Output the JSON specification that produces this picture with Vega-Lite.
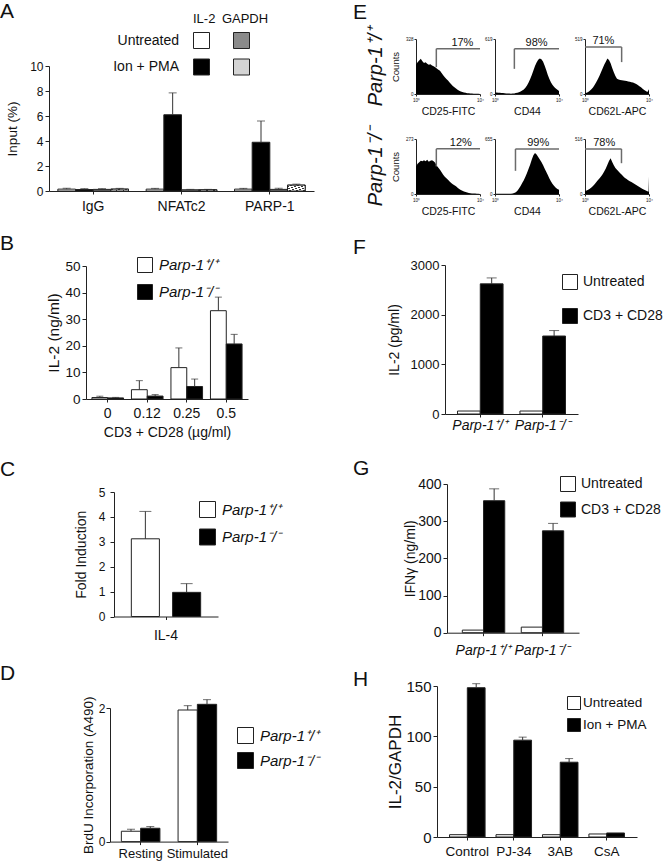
{
  "$schema": "https://vega.github.io/schema/vega-lite/v6.json",
  "background": "white",
  "padding": 0,
  "spacing": 33,
  "resolve": {"scale": {"fill": "independent", "xOffset": "independent"}},
  "config": {
    "font": "Liberation Sans",
    "view": {"stroke": null},
    "axis": {"grid": false, "domainColor": "#222", "tickColor": "#222", "labelColor": "#111", "titleColor": "#111", "labelFont": "Liberation Sans", "titleFont": "Liberation Sans", "titleFontWeight": "normal", "tickSize": 4, "labelPadding": 2},
    "legend": {"labelFont": "Liberation Sans", "titleFont": "Liberation Sans", "titleFontWeight": "normal", "titleColor": "#111", "labelColor": "#111", "symbolType": "square", "symbolStrokeColor": "#222", "symbolStrokeWidth": 1, "padding": 0, "labelOffset": 6, "labelLimit": 300},
    "title": {"font": "Liberation Sans", "fontSize": 21, "fontWeight": "normal", "color": "#111"}
  },
  "datasets": {
    "chipA": [
      {"target": "IgG", "gene": "IL-2", "treatment": "Untreated", "series": "IL-2 Untreated", "value": 0.15, "upper": 0.22},
      {"target": "IgG", "gene": "IL-2", "treatment": "Ion + PMA", "series": "IL-2 Ion + PMA", "value": 0.12, "upper": 0.19},
      {"target": "IgG", "gene": "GAPDH", "treatment": "Untreated", "series": "GAPDH Untreated", "value": 0.13, "upper": 0.19},
      {"target": "IgG", "gene": "GAPDH", "treatment": "Ion + PMA", "series": "GAPDH Ion + PMA", "value": 0.15, "upper": 0.21},
      {"target": "NFATc2", "gene": "IL-2", "treatment": "Untreated", "series": "IL-2 Untreated", "value": 0.15, "upper": 0.21},
      {"target": "NFATc2", "gene": "IL-2", "treatment": "Ion + PMA", "series": "IL-2 Ion + PMA", "value": 6.1, "upper": 7.85},
      {"target": "NFATc2", "gene": "GAPDH", "treatment": "Untreated", "series": "GAPDH Untreated", "value": 0.1, "upper": 0.13},
      {"target": "NFATc2", "gene": "GAPDH", "treatment": "Ion + PMA", "series": "GAPDH Ion + PMA", "value": 0.1, "upper": 0.13},
      {"target": "PARP-1", "gene": "IL-2", "treatment": "Untreated", "series": "IL-2 Untreated", "value": 0.15, "upper": 0.21},
      {"target": "PARP-1", "gene": "IL-2", "treatment": "Ion + PMA", "series": "IL-2 Ion + PMA", "value": 3.9, "upper": 5.6},
      {"target": "PARP-1", "gene": "GAPDH", "treatment": "Untreated", "series": "GAPDH Untreated", "value": 0.13, "upper": 0.22},
      {"target": "PARP-1", "gene": "GAPDH", "treatment": "Ion + PMA", "series": "GAPDH Ion + PMA", "value": 0.47, "upper": 0.55}
    ],
    "il2B": [
      {"dose": "0", "genotype": "Parp-1⁺/⁺", "value": 0.55, "upper": 1.05},
      {"dose": "0", "genotype": "Parp-1⁻/⁻", "value": 0.4, "upper": 0.6},
      {"dose": "0.12", "genotype": "Parp-1⁺/⁺", "value": 3.5, "upper": 6.9},
      {"dose": "0.12", "genotype": "Parp-1⁻/⁻", "value": 1.1, "upper": 1.65},
      {"dose": "0.25", "genotype": "Parp-1⁺/⁺", "value": 11.8, "upper": 19.2},
      {"dose": "0.25", "genotype": "Parp-1⁻/⁻", "value": 4.7, "upper": 7.5},
      {"dose": "0.5", "genotype": "Parp-1⁺/⁺", "value": 33.2, "upper": 38.3},
      {"dose": "0.5", "genotype": "Parp-1⁻/⁻", "value": 20.7, "upper": 24.3}
    ],
    "il4C": [
      {"cytokine": "IL-4", "genotype": "Parp-1⁺/⁺", "value": 3.12, "upper": 4.22},
      {"cytokine": "IL-4", "genotype": "Parp-1⁻/⁻", "value": 0.97, "upper": 1.32}
    ],
    "brduD": [
      {"state": "Resting", "genotype": "Parp-1⁺/⁺", "value": 0.155, "upper": 0.185},
      {"state": "Resting", "genotype": "Parp-1⁻/⁻", "value": 0.2, "upper": 0.225},
      {"state": "Stimulated", "genotype": "Parp-1⁺/⁺", "value": 1.97, "upper": 2.035},
      {"state": "Stimulated", "genotype": "Parp-1⁻/⁻", "value": 2.055, "upper": 2.125}
    ],
    "il2F": [
      {"genotype": "Parp-1⁺/⁺", "treatment": "Untreated", "value": 60},
      {"genotype": "Parp-1⁺/⁺", "treatment": "CD3 + CD28", "value": 2620, "upper": 2740},
      {"genotype": "Parp-1⁻/⁻", "treatment": "Untreated", "value": 60},
      {"genotype": "Parp-1⁻/⁻", "treatment": "CD3 + CD28", "value": 1570, "upper": 1680}
    ],
    "ifngG": [
      {"genotype": "Parp-1⁺/⁺", "treatment": "Untreated", "value": 7},
      {"genotype": "Parp-1⁺/⁺", "treatment": "CD3 + CD28", "value": 355, "upper": 387},
      {"genotype": "Parp-1⁻/⁻", "treatment": "Untreated", "value": 15},
      {"genotype": "Parp-1⁻/⁻", "treatment": "CD3 + CD28", "value": 274, "upper": 294}
    ],
    "il2H": [
      {"inhibitor": "Control", "treatment": "Untreated", "value": 2.3},
      {"inhibitor": "Control", "treatment": "Ion + PMA", "value": 148.3, "upper": 152.3},
      {"inhibitor": "PJ-34", "treatment": "Untreated", "value": 2.3},
      {"inhibitor": "PJ-34", "treatment": "Ion + PMA", "value": 96.2, "upper": 99.2},
      {"inhibitor": "3AB", "treatment": "Untreated", "value": 2.3},
      {"inhibitor": "3AB", "treatment": "Ion + PMA", "value": 74.3, "upper": 77.9},
      {"inhibitor": "CsA", "treatment": "Untreated", "value": 3},
      {"inhibitor": "CsA", "treatment": "Ion + PMA", "value": 4}
    ],
    "gates": [
      {"panel": 1, "lo": 1.27, "hi": 4, "level": 270, "drop": 160, "vert": 1.27, "pct": "17%", "pct_at": 2.9},
      {"panel": 2, "lo": 1.21, "hi": 4, "level": 509, "drop": 283, "vert": 1.21, "pct": "98%", "pct_at": 2.6},
      {"panel": 3, "lo": 0, "hi": 2.29, "level": 443, "drop": 301, "vert": 2.29, "pct": "71%", "pct_at": 1.15},
      {"panel": 4, "lo": 1.27, "hi": 4, "level": 224, "drop": 137, "vert": 1.27, "pct": "12%", "pct_at": 2.8},
      {"panel": 5, "lo": 1.28, "hi": 4, "level": 537, "drop": 276, "vert": 1.28, "pct": "99%", "pct_at": 2.7},
      {"panel": 6, "lo": 0, "hi": 2.28, "level": 423, "drop": 289, "vert": 2.28, "pct": "78%", "pct_at": 1.2}
    ],
    "hist": [
      {"panel": 1, "log_int": 0.0, "count": 174}, {"panel": 1, "log_int": 0.1, "count": 190}, {"panel": 1, "log_int": 0.2, "count": 200}, {"panel": 1, "log_int": 0.3, "count": 210}, {"panel": 1, "log_int": 0.4, "count": 195}, {"panel": 1, "log_int": 0.5, "count": 185}, {"panel": 1, "log_int": 0.6, "count": 190}, {"panel": 1, "log_int": 0.7, "count": 180}, {"panel": 1, "log_int": 0.8, "count": 175}, {"panel": 1, "log_int": 0.9, "count": 178}, {"panel": 1, "log_int": 1.0, "count": 170}, {"panel": 1, "log_int": 1.1, "count": 165}, {"panel": 1, "log_int": 1.2, "count": 160}, {"panel": 1, "log_int": 1.3, "count": 152}, {"panel": 1, "log_int": 1.4, "count": 145}, {"panel": 1, "log_int": 1.5, "count": 138}, {"panel": 1, "log_int": 1.6, "count": 125}, {"panel": 1, "log_int": 1.7, "count": 112}, {"panel": 1, "log_int": 1.8, "count": 100}, {"panel": 1, "log_int": 1.9, "count": 90}, {"panel": 1, "log_int": 2.0, "count": 80}, {"panel": 1, "log_int": 2.1, "count": 68}, {"panel": 1, "log_int": 2.2, "count": 58}, {"panel": 1, "log_int": 2.3, "count": 48}, {"panel": 1, "log_int": 2.4, "count": 40}, {"panel": 1, "log_int": 2.5, "count": 33}, {"panel": 1, "log_int": 2.6, "count": 26}, {"panel": 1, "log_int": 2.7, "count": 20}, {"panel": 1, "log_int": 2.8, "count": 15}, {"panel": 1, "log_int": 2.9, "count": 12}, {"panel": 1, "log_int": 3.0, "count": 9}, {"panel": 1, "log_int": 3.1, "count": 7}, {"panel": 1, "log_int": 3.2, "count": 5}, {"panel": 1, "log_int": 3.3, "count": 4}, {"panel": 1, "log_int": 3.4, "count": 3}, {"panel": 1, "log_int": 3.5, "count": 3}, {"panel": 1, "log_int": 3.6, "count": 2}, {"panel": 1, "log_int": 3.7, "count": 2}, {"panel": 1, "log_int": 3.8, "count": 1}, {"panel": 1, "log_int": 3.9, "count": 1}, {"panel": 1, "log_int": 4.0, "count": 0},
      {"panel": 2, "log_int": 0.0, "count": 15}, {"panel": 2, "log_int": 0.1, "count": 18}, {"panel": 2, "log_int": 0.2, "count": 15}, {"panel": 2, "log_int": 0.3, "count": 14}, {"panel": 2, "log_int": 0.4, "count": 12}, {"panel": 2, "log_int": 0.5, "count": 10}, {"panel": 2, "log_int": 0.6, "count": 9}, {"panel": 2, "log_int": 0.7, "count": 7}, {"panel": 2, "log_int": 0.8, "count": 6}, {"panel": 2, "log_int": 0.9, "count": 5}, {"panel": 2, "log_int": 1.0, "count": 4}, {"panel": 2, "log_int": 1.1, "count": 5}, {"panel": 2, "log_int": 1.2, "count": 7}, {"panel": 2, "log_int": 1.3, "count": 10}, {"panel": 2, "log_int": 1.4, "count": 14}, {"panel": 2, "log_int": 1.5, "count": 20}, {"panel": 2, "log_int": 1.6, "count": 28}, {"panel": 2, "log_int": 1.7, "count": 38}, {"panel": 2, "log_int": 1.8, "count": 52}, {"panel": 2, "log_int": 1.9, "count": 70}, {"panel": 2, "log_int": 2.0, "count": 95}, {"panel": 2, "log_int": 2.1, "count": 130}, {"panel": 2, "log_int": 2.2, "count": 170}, {"panel": 2, "log_int": 2.3, "count": 215}, {"panel": 2, "log_int": 2.4, "count": 265}, {"panel": 2, "log_int": 2.5, "count": 315}, {"panel": 2, "log_int": 2.6, "count": 355}, {"panel": 2, "log_int": 2.7, "count": 385}, {"panel": 2, "log_int": 2.8, "count": 400}, {"panel": 2, "log_int": 2.9, "count": 390}, {"panel": 2, "log_int": 3.0, "count": 365}, {"panel": 2, "log_int": 3.1, "count": 320}, {"panel": 2, "log_int": 3.2, "count": 270}, {"panel": 2, "log_int": 3.3, "count": 215}, {"panel": 2, "log_int": 3.4, "count": 170}, {"panel": 2, "log_int": 3.5, "count": 130}, {"panel": 2, "log_int": 3.6, "count": 100}, {"panel": 2, "log_int": 3.7, "count": 78}, {"panel": 2, "log_int": 3.8, "count": 62}, {"panel": 2, "log_int": 3.9, "count": 48}, {"panel": 2, "log_int": 4.0, "count": 35},
      {"panel": 3, "log_int": 0.0, "count": 8}, {"panel": 3, "log_int": 0.1, "count": 12}, {"panel": 3, "log_int": 0.2, "count": 20}, {"panel": 3, "log_int": 0.3, "count": 30}, {"panel": 3, "log_int": 0.4, "count": 45}, {"panel": 3, "log_int": 0.5, "count": 62}, {"panel": 3, "log_int": 0.6, "count": 85}, {"panel": 3, "log_int": 0.7, "count": 110}, {"panel": 3, "log_int": 0.8, "count": 140}, {"panel": 3, "log_int": 0.9, "count": 170}, {"panel": 3, "log_int": 1.0, "count": 205}, {"panel": 3, "log_int": 1.1, "count": 240}, {"panel": 3, "log_int": 1.2, "count": 275}, {"panel": 3, "log_int": 1.3, "count": 305}, {"panel": 3, "log_int": 1.4, "count": 335}, {"panel": 3, "log_int": 1.5, "count": 320}, {"panel": 3, "log_int": 1.6, "count": 290}, {"panel": 3, "log_int": 1.7, "count": 245}, {"panel": 3, "log_int": 1.8, "count": 205}, {"panel": 3, "log_int": 1.9, "count": 170}, {"panel": 3, "log_int": 2.0, "count": 145}, {"panel": 3, "log_int": 2.1, "count": 138}, {"panel": 3, "log_int": 2.2, "count": 133}, {"panel": 3, "log_int": 2.3, "count": 130}, {"panel": 3, "log_int": 2.4, "count": 128}, {"panel": 3, "log_int": 2.5, "count": 125}, {"panel": 3, "log_int": 2.6, "count": 122}, {"panel": 3, "log_int": 2.7, "count": 118}, {"panel": 3, "log_int": 2.8, "count": 115}, {"panel": 3, "log_int": 2.9, "count": 112}, {"panel": 3, "log_int": 3.0, "count": 108}, {"panel": 3, "log_int": 3.1, "count": 102}, {"panel": 3, "log_int": 3.2, "count": 94}, {"panel": 3, "log_int": 3.3, "count": 84}, {"panel": 3, "log_int": 3.4, "count": 74}, {"panel": 3, "log_int": 3.5, "count": 63}, {"panel": 3, "log_int": 3.6, "count": 50}, {"panel": 3, "log_int": 3.7, "count": 38}, {"panel": 3, "log_int": 3.8, "count": 28}, {"panel": 3, "log_int": 3.9, "count": 18}, {"panel": 3, "log_int": 4.0, "count": 45},
      {"panel": 4, "log_int": 0.0, "count": 137}, {"panel": 4, "log_int": 0.1, "count": 150}, {"panel": 4, "log_int": 0.2, "count": 158}, {"panel": 4, "log_int": 0.3, "count": 165}, {"panel": 4, "log_int": 0.4, "count": 162}, {"panel": 4, "log_int": 0.5, "count": 168}, {"panel": 4, "log_int": 0.6, "count": 163}, {"panel": 4, "log_int": 0.7, "count": 170}, {"panel": 4, "log_int": 0.8, "count": 160}, {"panel": 4, "log_int": 0.9, "count": 165}, {"panel": 4, "log_int": 1.0, "count": 168}, {"panel": 4, "log_int": 1.1, "count": 163}, {"panel": 4, "log_int": 1.2, "count": 155}, {"panel": 4, "log_int": 1.3, "count": 140}, {"panel": 4, "log_int": 1.4, "count": 130}, {"panel": 4, "log_int": 1.5, "count": 120}, {"panel": 4, "log_int": 1.6, "count": 108}, {"panel": 4, "log_int": 1.7, "count": 96}, {"panel": 4, "log_int": 1.8, "count": 86}, {"panel": 4, "log_int": 1.9, "count": 78}, {"panel": 4, "log_int": 2.0, "count": 71}, {"panel": 4, "log_int": 2.1, "count": 62}, {"panel": 4, "log_int": 2.2, "count": 55}, {"panel": 4, "log_int": 2.3, "count": 48}, {"panel": 4, "log_int": 2.4, "count": 43}, {"panel": 4, "log_int": 2.5, "count": 38}, {"panel": 4, "log_int": 2.6, "count": 31}, {"panel": 4, "log_int": 2.7, "count": 25}, {"panel": 4, "log_int": 2.8, "count": 20}, {"panel": 4, "log_int": 2.9, "count": 16}, {"panel": 4, "log_int": 3.0, "count": 13}, {"panel": 4, "log_int": 3.1, "count": 10}, {"panel": 4, "log_int": 3.2, "count": 7}, {"panel": 4, "log_int": 3.3, "count": 5}, {"panel": 4, "log_int": 3.4, "count": 4}, {"panel": 4, "log_int": 3.5, "count": 3}, {"panel": 4, "log_int": 3.6, "count": 2}, {"panel": 4, "log_int": 3.7, "count": 2}, {"panel": 4, "log_int": 3.8, "count": 1}, {"panel": 4, "log_int": 3.9, "count": 1}, {"panel": 4, "log_int": 4.0, "count": 0},
      {"panel": 5, "log_int": 0.0, "count": 2}, {"panel": 5, "log_int": 0.1, "count": 2}, {"panel": 5, "log_int": 0.2, "count": 2}, {"panel": 5, "log_int": 0.3, "count": 2}, {"panel": 5, "log_int": 0.4, "count": 2}, {"panel": 5, "log_int": 0.5, "count": 2}, {"panel": 5, "log_int": 0.6, "count": 2}, {"panel": 5, "log_int": 0.7, "count": 2}, {"panel": 5, "log_int": 0.8, "count": 2}, {"panel": 5, "log_int": 0.9, "count": 2}, {"panel": 5, "log_int": 1.0, "count": 3}, {"panel": 5, "log_int": 1.1, "count": 6}, {"panel": 5, "log_int": 1.2, "count": 12}, {"panel": 5, "log_int": 1.3, "count": 22}, {"panel": 5, "log_int": 1.4, "count": 40}, {"panel": 5, "log_int": 1.5, "count": 65}, {"panel": 5, "log_int": 1.6, "count": 95}, {"panel": 5, "log_int": 1.7, "count": 130}, {"panel": 5, "log_int": 1.8, "count": 165}, {"panel": 5, "log_int": 1.9, "count": 205}, {"panel": 5, "log_int": 2.0, "count": 250}, {"panel": 5, "log_int": 2.1, "count": 300}, {"panel": 5, "log_int": 2.2, "count": 350}, {"panel": 5, "log_int": 2.3, "count": 410}, {"panel": 5, "log_int": 2.4, "count": 460}, {"panel": 5, "log_int": 2.5, "count": 488}, {"panel": 5, "log_int": 2.6, "count": 470}, {"panel": 5, "log_int": 2.7, "count": 440}, {"panel": 5, "log_int": 2.8, "count": 410}, {"panel": 5, "log_int": 2.9, "count": 380}, {"panel": 5, "log_int": 3.0, "count": 345}, {"panel": 5, "log_int": 3.1, "count": 305}, {"panel": 5, "log_int": 3.2, "count": 265}, {"panel": 5, "log_int": 3.3, "count": 225}, {"panel": 5, "log_int": 3.4, "count": 185}, {"panel": 5, "log_int": 3.5, "count": 150}, {"panel": 5, "log_int": 3.6, "count": 120}, {"panel": 5, "log_int": 3.7, "count": 95}, {"panel": 5, "log_int": 3.8, "count": 75}, {"panel": 5, "log_int": 3.9, "count": 60}, {"panel": 5, "log_int": 4.0, "count": 50},
      {"panel": 6, "log_int": 0.0, "count": 25}, {"panel": 6, "log_int": 0.1, "count": 32}, {"panel": 6, "log_int": 0.2, "count": 40}, {"panel": 6, "log_int": 0.3, "count": 50}, {"panel": 6, "log_int": 0.4, "count": 62}, {"panel": 6, "log_int": 0.5, "count": 75}, {"panel": 6, "log_int": 0.6, "count": 92}, {"panel": 6, "log_int": 0.7, "count": 110}, {"panel": 6, "log_int": 0.8, "count": 128}, {"panel": 6, "log_int": 0.9, "count": 146}, {"panel": 6, "log_int": 1.0, "count": 165}, {"panel": 6, "log_int": 1.1, "count": 185}, {"panel": 6, "log_int": 1.2, "count": 210}, {"panel": 6, "log_int": 1.3, "count": 240}, {"panel": 6, "log_int": 1.4, "count": 275}, {"panel": 6, "log_int": 1.5, "count": 310}, {"panel": 6, "log_int": 1.6, "count": 336}, {"panel": 6, "log_int": 1.7, "count": 300}, {"panel": 6, "log_int": 1.8, "count": 270}, {"panel": 6, "log_int": 1.9, "count": 245}, {"panel": 6, "log_int": 2.0, "count": 227}, {"panel": 6, "log_int": 2.1, "count": 210}, {"panel": 6, "log_int": 2.2, "count": 195}, {"panel": 6, "log_int": 2.3, "count": 180}, {"panel": 6, "log_int": 2.4, "count": 165}, {"panel": 6, "log_int": 2.5, "count": 150}, {"panel": 6, "log_int": 2.6, "count": 140}, {"panel": 6, "log_int": 2.7, "count": 130}, {"panel": 6, "log_int": 2.8, "count": 120}, {"panel": 6, "log_int": 2.9, "count": 112}, {"panel": 6, "log_int": 3.0, "count": 103}, {"panel": 6, "log_int": 3.1, "count": 94}, {"panel": 6, "log_int": 3.2, "count": 84}, {"panel": 6, "log_int": 3.3, "count": 74}, {"panel": 6, "log_int": 3.4, "count": 65}, {"panel": 6, "log_int": 3.5, "count": 56}, {"panel": 6, "log_int": 3.6, "count": 48}, {"panel": 6, "log_int": 3.7, "count": 40}, {"panel": 6, "log_int": 3.8, "count": 32}, {"panel": 6, "log_int": 3.9, "count": 25}, {"panel": 6, "log_int": 3.97, "count": 20}, {"panel": 6, "log_int": 4.0, "count": 165}
    ]
  },
  "hconcat": [
    {
      "spacing": 0,
      "resolve": {"scale": {"fill": "independent", "xOffset": "independent"}},
      "vconcat": [
        {"width": 1, "height": 1, "data": {"values": []}, "mark": "point"},
        {
          "spacing": 20,
          "resolve": {"scale": {"fill": "independent", "xOffset": "independent"}},
          "vconcat": [
            {
              "title": {"text": "A", "anchor": "start", "frame": "bounds", "baseline": "alphabetic", "offset": -26},
              "spacing": 0,
              "resolve": {"scale": {"fill": "independent", "xOffset": "independent"}},
              "hconcat": [
                {"width": 5, "height": 1, "data": {"values": []}, "mark": "point"},
                {
                  "width": 265, "height": 125,
                  "data": {"name": "chipA"},
                  "encoding": {
                    "x": {"field": "target", "type": "nominal", "sort": ["IgG", "NFATc2", "PARP-1"], "scale": {"paddingInner": 0.2, "paddingOuter": 0.1}, "axis": {"title": null, "labelAngle": 0, "tickSize": 3, "labelPadding": 5, "labelFontSize": 14}},
                    "xOffset": {"field": "series", "type": "nominal", "sort": ["IL-2 Untreated", "IL-2 Ion + PMA", "GAPDH Untreated", "GAPDH Ion + PMA"], "scale": {"paddingInner": 0, "paddingOuter": 0}},
                    "y": {"field": "value", "type": "quantitative", "scale": {"domain": [0, 10], "nice": false}, "axis": {"values": [0, 2, 4, 6, 8, 10], "title": "Input (%)", "labelFontSize": 12, "titleFontSize": 13.5, "titlePadding": 10, "labelFlush": false}}
                  },
                  "layer": [
                    {
                      "transform": [{"filter": "datum.gene === 'IL-2'"}],
                      "mark": {"type": "bar", "stroke": "#222", "strokeWidth": 1},
                      "encoding": {"fill": {"field": "treatment", "type": "nominal", "scale": {"domain": ["Untreated", "Ion + PMA"], "range": ["#ffffff", "#000000"]}, "legend": {"title": "IL-2", "orient": "none", "legendX": 144, "legendY": -53, "titleFontSize": 13, "titlePadding": 6, "labelAlign": "right", "labelOffset": -31, "labelFontSize": 14, "symbolSize": 256, "rowPadding": 5.5}}}
                    },
                    {
                      "transform": [{"filter": "datum.gene === 'GAPDH'"}],
                      "mark": {"type": "bar", "stroke": "#222", "strokeWidth": 1},
                      "encoding": {"fill": {"field": "treatment", "type": "nominal", "scale": {"domain": ["Untreated", "Ion + PMA"], "range": ["#8a8a8a", "#d4d4d4"]}, "legend": {"title": "GAPDH", "orient": "none", "legendX": 173, "legendY": -53, "titleFontSize": 13, "titlePadding": 6, "titleAnchor": "middle", "labelExpr": "''", "symbolSize": 256, "rowPadding": 5.5}}}
                    },
                    {
                      "transform": [{"filter": "datum.gene === 'GAPDH' && datum.treatment === 'Ion + PMA'"}],
                      "mark": {"type": "bar", "stroke": "#222", "strokeWidth": 1, "fill": {"gradient": "linear", "x1": 0, "y1": 0, "x2": 1, "y2": 1, "stops": [{"offset": 0, "color": "#ffffff"}, {"offset": 0.1, "color": "#ffffff"}, {"offset": 0.1, "color": "#333333"}, {"offset": 0.15, "color": "#333333"}, {"offset": 0.15, "color": "#ffffff"}, {"offset": 0.3, "color": "#ffffff"}, {"offset": 0.3, "color": "#333333"}, {"offset": 0.35, "color": "#333333"}, {"offset": 0.35, "color": "#ffffff"}, {"offset": 0.5, "color": "#ffffff"}, {"offset": 0.5, "color": "#333333"}, {"offset": 0.55, "color": "#333333"}, {"offset": 0.55, "color": "#ffffff"}, {"offset": 0.7, "color": "#ffffff"}, {"offset": 0.7, "color": "#333333"}, {"offset": 0.75, "color": "#333333"}, {"offset": 0.75, "color": "#ffffff"}, {"offset": 0.9, "color": "#ffffff"}, {"offset": 0.9, "color": "#333333"}, {"offset": 0.95, "color": "#333333"}, {"offset": 0.95, "color": "#ffffff"}, {"offset": 1, "color": "#ffffff"}]}}
                    },
                    {"mark": {"type": "rule", "color": "#333", "strokeWidth": 1}, "encoding": {"y2": {"field": "upper"}}},
                    {"mark": {"type": "tick", "color": "#333", "thickness": 1, "size": 8}, "encoding": {"y": {"field": "upper", "type": "quantitative"}}}
                  ],
                  "resolve": {"scale": {"fill": "independent"}}
                }
              ]
            },
            {
              "title": {"text": "B", "anchor": "start", "frame": "bounds", "baseline": "alphabetic", "offset": -14},
              "spacing": 0,
              "resolve": {"scale": {"fill": "independent", "xOffset": "independent"}},
              "hconcat": [
                {"width": 46, "height": 1, "data": {"values": []}, "mark": "point"},
                {
                  "width": 162, "height": 133,
                  "data": {"name": "il2B"},
                  "encoding": {
                    "x": {"field": "dose", "type": "nominal", "sort": ["0", "0.12", "0.25", "0.5"], "scale": {"paddingInner": 0.2, "paddingOuter": 0.15}, "axis": {"title": "CD3 + CD28 (µg/ml)", "labelAngle": 0, "tickSize": 3, "labelPadding": 4, "labelFontSize": 14, "titleFontSize": 14, "titlePadding": 5}},
                    "xOffset": {"field": "genotype", "type": "nominal", "sort": ["Parp-1⁺/⁺", "Parp-1⁻/⁻"], "scale": {"paddingInner": 0}},
                    "y": {"field": "value", "type": "quantitative", "scale": {"domain": [0, 50], "nice": false}, "axis": {"values": [0, 10, 20, 30, 40, 50], "title": "IL-2 (ng/ml)", "labelFontSize": 13.5, "titleFontSize": 15.5, "titlePadding": 3, "labelFlush": false}}
                  },
                  "layer": [
                    {"mark": {"type": "bar", "stroke": "#222", "strokeWidth": 1}, "encoding": {"fill": {"field": "genotype", "type": "nominal", "scale": {"domain": ["Parp-1⁺/⁺", "Parp-1⁻/⁻"], "range": ["#ffffff", "#000000"]}, "legend": {"title": null, "orient": "none", "legendX": 51, "legendY": -9, "labelFontStyle": "italic", "labelFontSize": 15, "symbolSize": 225, "rowPadding": 7}}}},
                    {"mark": {"type": "rule", "color": "#333", "strokeWidth": 1}, "encoding": {"y2": {"field": "upper"}}},
                    {"mark": {"type": "tick", "color": "#333", "thickness": 1, "size": 7}, "encoding": {"y": {"field": "upper", "type": "quantitative"}}}
                  ]
                }
              ]
            },
            {
              "title": {"text": "C", "anchor": "start", "frame": "bounds", "baseline": "alphabetic", "offset": -11},
              "spacing": 0,
              "resolve": {"scale": {"fill": "independent", "xOffset": "independent"}},
              "hconcat": [
                {"width": 74, "height": 1, "data": {"values": []}, "mark": "point"},
                {
                  "width": 104, "height": 124.5,
                  "data": {"name": "il4C"},
                  "encoding": {
                    "x": {"field": "cytokine", "type": "nominal", "scale": {"paddingInner": 0, "paddingOuter": 0.25}, "axis": {"title": null, "labelAngle": 0, "tickSize": 3, "labelPadding": 9, "labelFontSize": 14}},
                    "xOffset": {"field": "genotype", "type": "nominal", "sort": ["Parp-1⁺/⁺", "Parp-1⁻/⁻"], "scale": {"paddingInner": 0.32}},
                    "y": {"field": "value", "type": "quantitative", "scale": {"domain": [0, 5], "nice": false}, "axis": {"values": [0, 1, 2, 3, 4, 5], "title": "Fold Induction", "labelFontSize": 12, "labelPadding": 5, "titleFontSize": 14, "titlePadding": 10, "labelFlush": false}}
                  },
                  "layer": [
                    {"mark": {"type": "bar", "stroke": "#222", "strokeWidth": 1}, "encoding": {"fill": {"field": "genotype", "type": "nominal", "scale": {"domain": ["Parp-1⁺/⁺", "Parp-1⁻/⁻"], "range": ["#ffffff", "#000000"]}, "legend": {"title": null, "orient": "none", "legendX": 85, "legendY": 9, "labelFontStyle": "italic", "labelFontSize": 15, "symbolSize": 256, "rowPadding": 6.5}}}},
                    {"mark": {"type": "rule", "color": "#333", "strokeWidth": 1}, "encoding": {"y2": {"field": "upper"}}},
                    {"mark": {"type": "tick", "color": "#333", "thickness": 1, "size": 12}, "encoding": {"y": {"field": "upper", "type": "quantitative"}}}
                  ]
                }
              ]
            },
            {
              "title": {"text": "D", "anchor": "start", "frame": "bounds", "baseline": "alphabetic", "offset": -5},
              "spacing": 0,
              "resolve": {"scale": {"fill": "independent", "xOffset": "independent"}},
              "hconcat": [
                {"width": 81, "height": 1, "data": {"values": []}, "mark": "point"},
                {
                  "width": 118, "height": 133.6,
                  "data": {"name": "brduD"},
                  "encoding": {
                    "x": {"field": "state", "type": "nominal", "sort": ["Resting", "Stimulated"], "scale": {"paddingInner": 0.32, "paddingOuter": 0.2}, "axis": {"title": null, "labelAngle": 0, "tickSize": 3, "labelPadding": 3, "labelFontSize": 13}},
                    "xOffset": {"field": "genotype", "type": "nominal", "sort": ["Parp-1⁺/⁺", "Parp-1⁻/⁻"], "scale": {"paddingInner": 0}},
                    "y": {"field": "value", "type": "quantitative", "scale": {"domain": [0, 2], "nice": false}, "axis": {"values": [0, 1, 2], "format": "d", "title": "BrdU Incorporation (A490)", "labelFontSize": 12, "labelPadding": 1, "titleFontSize": 13.5, "titlePadding": 3, "labelFlush": false}}
                  },
                  "layer": [
                    {"mark": {"type": "bar", "stroke": "#222", "strokeWidth": 1}, "encoding": {"fill": {"field": "genotype", "type": "nominal", "scale": {"domain": ["Parp-1⁺/⁺", "Parp-1⁻/⁻"], "range": ["#ffffff", "#000000"]}, "legend": {"title": null, "orient": "none", "legendX": 127, "legendY": 19, "labelFontStyle": "italic", "labelFontSize": 15, "symbolSize": 256, "rowPadding": 4}}}},
                    {"mark": {"type": "rule", "color": "#333", "strokeWidth": 1}, "encoding": {"y2": {"field": "upper"}}},
                    {"mark": {"type": "tick", "color": "#333", "thickness": 1, "size": 8}, "encoding": {"y": {"field": "upper", "type": "quantitative"}}}
                  ]
                }
              ]
            }
          ]
        }
      ]
    },
    {
      "spacing": 0,
      "resolve": {"scale": {"fill": "independent", "xOffset": "independent"}},
      "vconcat": [
        {"width": 1, "height": 1, "data": {"values": []}, "mark": "point"},
        {
          "spacing": 20,
          "resolve": {"scale": {"fill": "independent", "xOffset": "independent"}},
          "vconcat": [
            {
              "title": {"text": "E", "anchor": "start", "frame": "bounds", "baseline": "alphabetic", "offset": -13},
              "spacing": 0,
              "hconcat": [
                {"width": 13, "height": 1, "data": {"values": []}, "mark": "point"},
                {
                  "spacing": 9,
                  "vconcat": [
                    {
                      "title": {"text": "Parp-1⁺/⁺", "orient": "left", "anchor": "middle", "frame": "group", "fontSize": 20, "fontStyle": "italic", "offset": 4, "dx": -27.5},
                      "spacing": 11,
                      "hconcat": [
                        {
                          "spacing": 0,
                          "hconcat": [
                            {
                              "width": 64, "height": 55,
                              "layer": [
                                {"data": {"name": "hist"}, "transform": [{"filter": "datum.panel === 1"}], "mark": {"type": "area", "color": "#000000", "interpolate": "linear"},
                                 "encoding": {"x": {"field": "log_int", "type": "quantitative", "scale": {"domain": [0, 4], "nice": false}, "axis": {"values": [0, 1, 2, 3, 4], "labelExpr": "'10' + ['⁰','¹','²','³','⁴'][datum.value]", "labelFontSize": 4.5, "tickSize": 2, "labelPadding": 1, "labelFlush": false, "labelOverlap": false, "title": "CD25-FITC", "titleFontSize": 10.5, "titlePadding": 5}},
                                              "y": {"field": "count", "type": "quantitative", "scale": {"domain": [0, 328], "nice": false}, "axis": {"values": [0, 82, 164, 246, 328], "labelFontSize": 4.5, "tickSize": 2, "labelPadding": 1, "labelFlush": false, "labelOverlap": false, "title": "Counts", "titleFontSize": 9.5, "titlePadding": 5}}}},
                                {"data": {"name": "gates"}, "transform": [{"filter": "datum.panel === 1"}], "mark": {"type": "rule", "color": "#6b6b6b", "strokeWidth": 1.5}, "encoding": {"x": {"field": "lo", "type": "quantitative"}, "x2": {"field": "hi"}, "y": {"field": "level", "type": "quantitative"}}},
                                {"data": {"name": "gates"}, "transform": [{"filter": "datum.panel === 1"}], "mark": {"type": "rule", "color": "#6b6b6b", "strokeWidth": 1.5}, "encoding": {"x": {"field": "vert", "type": "quantitative"}, "y": {"field": "drop", "type": "quantitative"}, "y2": {"field": "level"}}},
                                {"data": {"name": "gates"}, "transform": [{"filter": "datum.panel === 1"}], "mark": {"type": "text", "baseline": "bottom", "dy": -1, "fontSize": 11, "color": "#111"}, "encoding": {"x": {"field": "pct_at", "type": "quantitative"}, "y": {"field": "level", "type": "quantitative"}, "text": {"field": "pct"}}}
                              ]
                            },
                            {
                              "width": 64, "height": 55,
                              "layer": [
                                {"data": {"name": "hist"}, "transform": [{"filter": "datum.panel === 2"}], "mark": {"type": "area", "color": "#000000", "interpolate": "linear"},
                                 "encoding": {"x": {"field": "log_int", "type": "quantitative", "scale": {"domain": [0, 4], "nice": false}, "axis": {"values": [0, 1, 2, 3, 4], "labelExpr": "'10' + ['⁰','¹','²','³','⁴'][datum.value]", "labelFontSize": 4.5, "tickSize": 2, "labelPadding": 1, "labelFlush": false, "labelOverlap": false, "title": "CD44", "titleFontSize": 10.5, "titlePadding": 5}},
                                              "y": {"field": "count", "type": "quantitative", "scale": {"domain": [0, 619], "nice": false}, "axis": {"values": [0, 154, 309, 464, 619], "labelFontSize": 4.5, "tickSize": 2, "labelPadding": 1, "labelFlush": false, "labelOverlap": false, "title": null}}}},
                                {"data": {"name": "gates"}, "transform": [{"filter": "datum.panel === 2"}], "mark": {"type": "rule", "color": "#6b6b6b", "strokeWidth": 1.5}, "encoding": {"x": {"field": "lo", "type": "quantitative"}, "x2": {"field": "hi"}, "y": {"field": "level", "type": "quantitative"}}},
                                {"data": {"name": "gates"}, "transform": [{"filter": "datum.panel === 2"}], "mark": {"type": "rule", "color": "#6b6b6b", "strokeWidth": 1.5}, "encoding": {"x": {"field": "vert", "type": "quantitative"}, "y": {"field": "drop", "type": "quantitative"}, "y2": {"field": "level"}}},
                                {"data": {"name": "gates"}, "transform": [{"filter": "datum.panel === 2"}], "mark": {"type": "text", "baseline": "bottom", "dy": -1, "fontSize": 11, "color": "#111"}, "encoding": {"x": {"field": "pct_at", "type": "quantitative"}, "y": {"field": "level", "type": "quantitative"}, "text": {"field": "pct"}}}
                              ]
                            }
                          ]
                        },
                        {
                          "width": 64, "height": 55,
                          "layer": [
                            {"data": {"name": "hist"}, "transform": [{"filter": "datum.panel === 3"}], "mark": {"type": "area", "color": "#000000", "interpolate": "linear"},
                             "encoding": {"x": {"field": "log_int", "type": "quantitative", "scale": {"domain": [0, 4], "nice": false}, "axis": {"values": [0, 1, 2, 3, 4], "labelExpr": "'10' + ['⁰','¹','²','³','⁴'][datum.value]", "labelFontSize": 4.5, "tickSize": 2, "labelPadding": 1, "labelFlush": false, "labelOverlap": false, "title": "CD62L-APC", "titleFontSize": 10.5, "titlePadding": 5}},
                                          "y": {"field": "count", "type": "quantitative", "scale": {"domain": [0, 519], "nice": false}, "axis": {"values": [0, 129, 259, 389, 519], "labelFontSize": 4.5, "tickSize": 2, "labelPadding": 1, "labelFlush": false, "labelOverlap": false, "title": null}}}},
                            {"data": {"name": "gates"}, "transform": [{"filter": "datum.panel === 3"}], "mark": {"type": "rule", "color": "#6b6b6b", "strokeWidth": 1.5}, "encoding": {"x": {"field": "lo", "type": "quantitative"}, "x2": {"field": "hi"}, "y": {"field": "level", "type": "quantitative"}}},
                            {"data": {"name": "gates"}, "transform": [{"filter": "datum.panel === 3"}], "mark": {"type": "rule", "color": "#6b6b6b", "strokeWidth": 1.5}, "encoding": {"x": {"field": "vert", "type": "quantitative"}, "y": {"field": "drop", "type": "quantitative"}, "y2": {"field": "level"}}},
                            {"data": {"name": "gates"}, "transform": [{"filter": "datum.panel === 3"}], "mark": {"type": "text", "baseline": "bottom", "dy": -1, "fontSize": 11, "color": "#111"}, "encoding": {"x": {"field": "pct_at", "type": "quantitative"}, "y": {"field": "level", "type": "quantitative"}, "text": {"field": "pct"}}}
                          ]
                        }
                      ]
                    },
                    {
                      "title": {"text": "Parp-1⁻/⁻", "orient": "left", "anchor": "middle", "frame": "group", "fontSize": 20, "fontStyle": "italic", "offset": 4, "dx": -27.5},
                      "spacing": 11,
                      "hconcat": [
                        {
                          "spacing": 0,
                          "hconcat": [
                            {
                              "width": 64, "height": 55,
                              "layer": [
                                {"data": {"name": "hist"}, "transform": [{"filter": "datum.panel === 4"}], "mark": {"type": "area", "color": "#000000", "interpolate": "linear"},
                                 "encoding": {"x": {"field": "log_int", "type": "quantitative", "scale": {"domain": [0, 4], "nice": false}, "axis": {"values": [0, 1, 2, 3, 4], "labelExpr": "'10' + ['⁰','¹','²','³','⁴'][datum.value]", "labelFontSize": 4.5, "tickSize": 2, "labelPadding": 1, "labelFlush": false, "labelOverlap": false, "title": "CD25-FITC", "titleFontSize": 10.5, "titlePadding": 5}},
                                              "y": {"field": "count", "type": "quantitative", "scale": {"domain": [0, 273], "nice": false}, "axis": {"values": [0, 68, 136, 204, 273], "labelFontSize": 4.5, "tickSize": 2, "labelPadding": 1, "labelFlush": false, "labelOverlap": false, "title": "Counts", "titleFontSize": 9.5, "titlePadding": 5}}}},
                                {"data": {"name": "gates"}, "transform": [{"filter": "datum.panel === 4"}], "mark": {"type": "rule", "color": "#6b6b6b", "strokeWidth": 1.5}, "encoding": {"x": {"field": "lo", "type": "quantitative"}, "x2": {"field": "hi"}, "y": {"field": "level", "type": "quantitative"}}},
                                {"data": {"name": "gates"}, "transform": [{"filter": "datum.panel === 4"}], "mark": {"type": "rule", "color": "#6b6b6b", "strokeWidth": 1.5}, "encoding": {"x": {"field": "vert", "type": "quantitative"}, "y": {"field": "drop", "type": "quantitative"}, "y2": {"field": "level"}}},
                                {"data": {"name": "gates"}, "transform": [{"filter": "datum.panel === 4"}], "mark": {"type": "text", "baseline": "bottom", "dy": -1, "fontSize": 11, "color": "#111"}, "encoding": {"x": {"field": "pct_at", "type": "quantitative"}, "y": {"field": "level", "type": "quantitative"}, "text": {"field": "pct"}}}
                              ]
                            },
                            {
                              "width": 64, "height": 55,
                              "layer": [
                                {"data": {"name": "hist"}, "transform": [{"filter": "datum.panel === 5"}], "mark": {"type": "area", "color": "#000000", "interpolate": "linear"},
                                 "encoding": {"x": {"field": "log_int", "type": "quantitative", "scale": {"domain": [0, 4], "nice": false}, "axis": {"values": [0, 1, 2, 3, 4], "labelExpr": "'10' + ['⁰','¹','²','³','⁴'][datum.value]", "labelFontSize": 4.5, "tickSize": 2, "labelPadding": 1, "labelFlush": false, "labelOverlap": false, "title": "CD44", "titleFontSize": 10.5, "titlePadding": 5}},
                                              "y": {"field": "count", "type": "quantitative", "scale": {"domain": [0, 655], "nice": false}, "axis": {"values": [0, 163, 327, 491, 655], "labelFontSize": 4.5, "tickSize": 2, "labelPadding": 1, "labelFlush": false, "labelOverlap": false, "title": null}}}},
                                {"data": {"name": "gates"}, "transform": [{"filter": "datum.panel === 5"}], "mark": {"type": "rule", "color": "#6b6b6b", "strokeWidth": 1.5}, "encoding": {"x": {"field": "lo", "type": "quantitative"}, "x2": {"field": "hi"}, "y": {"field": "level", "type": "quantitative"}}},
                                {"data": {"name": "gates"}, "transform": [{"filter": "datum.panel === 5"}], "mark": {"type": "rule", "color": "#6b6b6b", "strokeWidth": 1.5}, "encoding": {"x": {"field": "vert", "type": "quantitative"}, "y": {"field": "drop", "type": "quantitative"}, "y2": {"field": "level"}}},
                                {"data": {"name": "gates"}, "transform": [{"filter": "datum.panel === 5"}], "mark": {"type": "text", "baseline": "bottom", "dy": -1, "fontSize": 11, "color": "#111"}, "encoding": {"x": {"field": "pct_at", "type": "quantitative"}, "y": {"field": "level", "type": "quantitative"}, "text": {"field": "pct"}}}
                              ]
                            }
                          ]
                        },
                        {
                          "width": 64, "height": 55,
                          "layer": [
                            {"data": {"name": "hist"}, "transform": [{"filter": "datum.panel === 6"}], "mark": {"type": "area", "color": "#000000", "interpolate": "linear"},
                             "encoding": {"x": {"field": "log_int", "type": "quantitative", "scale": {"domain": [0, 4], "nice": false}, "axis": {"values": [0, 1, 2, 3, 4], "labelExpr": "'10' + ['⁰','¹','²','³','⁴'][datum.value]", "labelFontSize": 4.5, "tickSize": 2, "labelPadding": 1, "labelFlush": false, "labelOverlap": false, "title": "CD62L-APC", "titleFontSize": 10.5, "titlePadding": 5}},
                                          "y": {"field": "count", "type": "quantitative", "scale": {"domain": [0, 516], "nice": false}, "axis": {"values": [0, 129, 258, 387, 516], "labelFontSize": 4.5, "tickSize": 2, "labelPadding": 1, "labelFlush": false, "labelOverlap": false, "title": null}}}},
                            {"data": {"name": "gates"}, "transform": [{"filter": "datum.panel === 6"}], "mark": {"type": "rule", "color": "#6b6b6b", "strokeWidth": 1.5}, "encoding": {"x": {"field": "lo", "type": "quantitative"}, "x2": {"field": "hi"}, "y": {"field": "level", "type": "quantitative"}}},
                            {"data": {"name": "gates"}, "transform": [{"filter": "datum.panel === 6"}], "mark": {"type": "rule", "color": "#6b6b6b", "strokeWidth": 1.5}, "encoding": {"x": {"field": "vert", "type": "quantitative"}, "y": {"field": "drop", "type": "quantitative"}, "y2": {"field": "level"}}},
                            {"data": {"name": "gates"}, "transform": [{"filter": "datum.panel === 6"}], "mark": {"type": "text", "baseline": "bottom", "dy": -1, "fontSize": 11, "color": "#111"}, "encoding": {"x": {"field": "pct_at", "type": "quantitative"}, "y": {"field": "level", "type": "quantitative"}, "text": {"field": "pct"}}}
                          ]
                        }
                      ]
                    }
                  ]
                }
              ]
            },
            {
              "spacing": 10,
              "resolve": {"scale": {"fill": "independent", "xOffset": "independent"}},
              "vconcat": [
                {
                  "spacing": 26,
                  "resolve": {"scale": {"fill": "independent", "xOffset": "independent"}},
                  "vconcat": [
                    {
                      "title": {"text": "F", "anchor": "start", "frame": "bounds", "baseline": "alphabetic", "offset": -16},
                      "spacing": 0,
                      "resolve": {"scale": {"fill": "independent", "xOffset": "independent"}},
                      "hconcat": [
                        {"width": 34, "height": 1, "data": {"values": []}, "mark": "point"},
                        {
                          "width": 133, "height": 149,
                          "data": {"name": "il2F"},
                          "encoding": {
                            "x": {"field": "genotype", "type": "nominal", "sort": ["Parp-1⁺/⁺", "Parp-1⁻/⁻"], "scale": {"paddingInner": 0.27, "paddingOuter": 0.2}, "axis": {"title": null, "labelAngle": 0, "tickSize": 3, "labelPadding": 1, "labelFontSize": 14, "labelFontStyle": "italic"}},
                            "xOffset": {"field": "treatment", "type": "nominal", "sort": ["Untreated", "CD3 + CD28"], "scale": {"paddingInner": 0}},
                            "y": {"field": "value", "type": "quantitative", "scale": {"domain": [0, 3000], "nice": false}, "axis": {"values": [0, 1000, 2000, 3000], "format": "d", "title": "IL-2 (pg/ml)", "labelFontSize": 13, "titleFontSize": 14, "titlePadding": 9, "labelFlush": false}}
                          },
                          "layer": [
                            {"mark": {"type": "bar", "stroke": "#222", "strokeWidth": 1}, "encoding": {"fill": {"field": "treatment", "type": "nominal", "scale": {"domain": ["Untreated", "CD3 + CD28"], "range": ["#ffffff", "#000000"]}, "legend": {"title": null, "orient": "none", "legendX": 117, "legendY": 9, "labelFontSize": 14, "symbolSize": 225, "rowPadding": 14, "labelOffset": 5}}}},
                            {"transform": [{"filter": "isValid(datum.upper)"}], "mark": {"type": "rule", "color": "#333", "strokeWidth": 1}, "encoding": {"y2": {"field": "upper"}}},
                            {"transform": [{"filter": "isValid(datum.upper)"}], "mark": {"type": "tick", "color": "#333", "thickness": 1, "size": 10}, "encoding": {"y": {"field": "upper", "type": "quantitative"}}}
                          ]
                        }
                      ]
                    },
                    {
                      "title": {"text": "G", "anchor": "start", "frame": "bounds", "baseline": "alphabetic", "offset": -20},
                      "spacing": 0,
                      "resolve": {"scale": {"fill": "independent", "xOffset": "independent"}},
                      "hconcat": [
                        {"width": 50, "height": 1, "data": {"values": []}, "mark": "point"},
                        {
                          "width": 132, "height": 148.7,
                          "data": {"name": "ifngG"},
                          "encoding": {
                            "x": {"field": "genotype", "type": "nominal", "sort": ["Parp-1⁺/⁺", "Parp-1⁻/⁻"], "scale": {"paddingInner": 0.28, "paddingOuter": 0.26}, "axis": {"title": null, "labelAngle": 0, "tickSize": 3, "labelPadding": 8, "labelFontSize": 14, "labelFontStyle": "italic"}},
                            "xOffset": {"field": "treatment", "type": "nominal", "sort": ["Untreated", "CD3 + CD28"], "scale": {"paddingInner": 0}},
                            "y": {"field": "value", "type": "quantitative", "scale": {"domain": [0, 400], "nice": false}, "axis": {"values": [0, 100, 200, 300, 400], "title": "IFNγ (ng/ml)", "labelFontSize": 14, "titleFontSize": 14, "titlePadding": 0, "labelFlush": false}}
                          },
                          "layer": [
                            {"mark": {"type": "bar", "stroke": "#222", "strokeWidth": 1}, "encoding": {"fill": {"field": "treatment", "type": "nominal", "scale": {"domain": ["Untreated", "CD3 + CD28"], "range": ["#ffffff", "#000000"]}, "legend": {"title": null, "orient": "none", "legendX": 113, "legendY": -8, "labelFontSize": 14, "symbolSize": 225, "rowPadding": 5.5, "labelOffset": 5}}}},
                            {"transform": [{"filter": "isValid(datum.upper)"}], "mark": {"type": "rule", "color": "#333", "strokeWidth": 1}, "encoding": {"y2": {"field": "upper"}}},
                            {"transform": [{"filter": "isValid(datum.upper)"}], "mark": {"type": "tick", "color": "#333", "thickness": 1, "size": 10}, "encoding": {"y": {"field": "upper", "type": "quantitative"}}}
                          ]
                        }
                      ]
                    }
                  ]
                },
                {
                  "title": {"text": "H", "anchor": "start", "frame": "bounds", "baseline": "alphabetic", "offset": -27.5},
                  "spacing": 0,
                  "resolve": {"scale": {"fill": "independent", "xOffset": "independent"}},
                  "hconcat": [
                    {"width": 33, "height": 1, "data": {"values": []}, "mark": "point"},
                    {
                      "width": 200, "height": 151,
                      "data": {"name": "il2H"},
                      "encoding": {
                        "x": {"field": "inhibitor", "type": "nominal", "sort": ["Control", "PJ-34", "3AB", "CsA"], "scale": {"paddingInner": 0.235, "paddingOuter": 0.27}, "axis": {"title": null, "labelAngle": 0, "tickSize": 3, "labelPadding": 4, "labelFontSize": 13.5}},
                        "xOffset": {"field": "treatment", "type": "nominal", "sort": ["Untreated", "Ion + PMA"], "scale": {"paddingInner": 0}},
                        "y": {"field": "value", "type": "quantitative", "scale": {"domain": [0, 150], "nice": false}, "axis": {"values": [0, 50, 100, 150], "title": "IL-2/GAPDH", "labelFontSize": 15, "titleFontSize": 17, "titlePadding": 1, "labelFlush": false}}
                      },
                      "layer": [
                        {"mark": {"type": "bar", "stroke": "#222", "strokeWidth": 1}, "encoding": {"fill": {"field": "treatment", "type": "nominal", "scale": {"domain": ["Untreated", "Ion + PMA"], "range": ["#ffffff", "#000000"]}, "legend": {"title": null, "orient": "none", "legendX": 130, "legendY": 10, "labelFontSize": 13.5, "symbolSize": 169, "rowPadding": 4, "labelOffset": 2}}}},
                        {"transform": [{"filter": "isValid(datum.upper)"}], "mark": {"type": "rule", "color": "#333", "strokeWidth": 1}, "encoding": {"y2": {"field": "upper"}}},
                        {"transform": [{"filter": "isValid(datum.upper)"}], "mark": {"type": "tick", "color": "#333", "thickness": 1, "size": 8}, "encoding": {"y": {"field": "upper", "type": "quantitative"}}}
                      ]
                    }
                  ]
                }
              ]
            }
          ]
        }
      ]
    }
  ]
}
